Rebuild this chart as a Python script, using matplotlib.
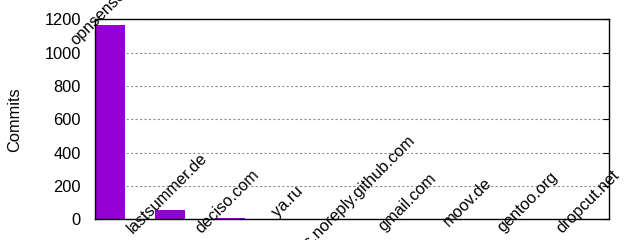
import matplotlib
matplotlib.use("Agg")
import matplotlib.pyplot as plt

# Data -----------------------------------------------------------
domains = ["opnsense.org", "lastsummer.de", "deciso.com", "ya.ru",
           "users.noreply.github.com", "gmail.com", "moov.de",
           "gentoo.org", "dropcut.net"]
commits = [1166, 56, 7, 2, 1, 1, 1, 1, 1]

plt.rcParams['font.family'] = ['Liberation Sans', 'DejaVu Sans']
FS = 11.8

# Figure -----------------------------------------------------------
fig = plt.figure(figsize=(6.4, 2.4), dpi=100)
ax = fig.add_axes([0.148, 0.086, 0.8036, 0.8336])

positions = list(range(len(domains)))
ax.bar(positions, commits, width=0.5, color='#9400D3', zorder=2)

ax.set_xlim(-0.25, 8.32)
ax.set_ylim(0, 1200)
ax.set_yticks(range(0, 1201, 200))
ax.set_xticks([])

# Grid
ax.set_axisbelow(True)
ax.yaxis.grid(True, color='#909090', linestyle=(0, (2, 2)), linewidth=0.8)

# Ticks and frame
ax.tick_params(axis='y', direction='in', length=4, pad=10, labelsize=FS,
               right=True, width=0.8)
for sp in ax.spines.values():
    sp.set_linewidth(1.0)
    sp.set_color('black')
    sp.set_zorder(3)

ax.set_ylabel("Commits", fontsize=FS, labelpad=16)

# Labels on top of the bars
for x, v, name in zip(positions, commits, domains):
    ax.annotate(name, xy=(x, v), xytext=(-2, 17), textcoords='offset pixels',
                ha='center', va='center', rotation=45, fontsize=FS,
                annotation_clip=False)

fig.savefig("out.png", dpi=100)
